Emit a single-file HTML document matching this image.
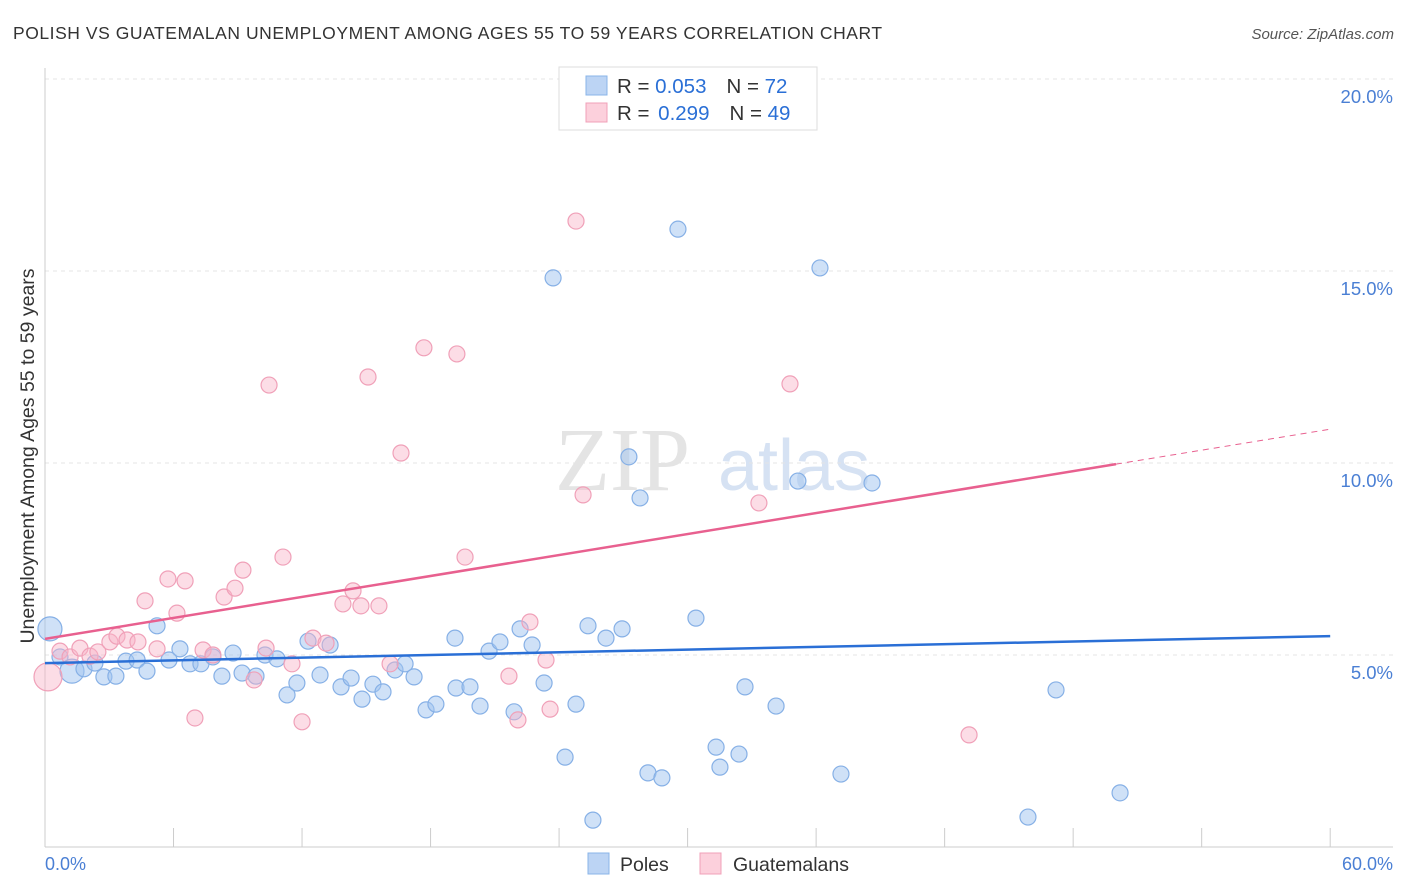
<!DOCTYPE html>
<html><head><meta charset="utf-8">
<style>
body{margin:0;background:#fff;width:1406px;height:892px;overflow:hidden;font-family:"Liberation Sans",sans-serif;}
svg{position:absolute;left:0;top:0}
</style></head>
<body>
<svg id="chart" width="1406" height="892">
<text x="13" y="39" font-size="17.5" fill="#333" letter-spacing="0.55">POLISH VS GUATEMALAN UNEMPLOYMENT AMONG AGES 55 TO 59 YEARS CORRELATION CHART</text>
<text x="1394" y="39" font-size="15" fill="#555" font-style="italic" text-anchor="end">Source: ZipAtlas.com</text>
<g>
<text x="555" y="490" font-size="90" font-family="Liberation Serif,serif" fill="#e4e4e4">ZIP</text>
<text x="718" y="490" font-size="72" fill="#d6e2f3">atlas</text>
</g>
<g id="grid"></g>
<line x1="45" y1="68" x2="45" y2="847" stroke="#ccc"/>
<line x1="45" y1="847" x2="1393" y2="847" stroke="#ccc"/>
<text transform="translate(34,456) rotate(-90)" font-size="19.5" fill="#333" text-anchor="middle">Unemployment Among Ages 55 to 59 years</text>
<text x="45" y="870" font-size="18" fill="#4a7fd4">0.0%</text>
<text x="1393" y="870" font-size="18" fill="#4a7fd4" text-anchor="end">60.0%</text>
<g id="points"></g>
<g id="lines"></g>
<g>
<rect x="559" y="67" width="258" height="63" fill="#fff" stroke="#ddd"/>
<rect x="586" y="76" width="21" height="19" fill="#bcd4f4" stroke="#8ab4e8"/>
<rect x="586" y="103" width="21" height="19" fill="#fcd0dc" stroke="#f0a0b8"/>
<text x="617" y="93" font-size="20.5" fill="#333">R = <tspan fill="#2a6fd6">0.053</tspan><tspan dx="20">N = </tspan><tspan fill="#2a6fd6">72</tspan></text>
<text x="617" y="120" font-size="20.5" fill="#333">R = <tspan fill="#2a6fd6" dx="3">0.299</tspan><tspan dx="20">N = </tspan><tspan fill="#2a6fd6">49</tspan></text>
</g>
<g>
<rect x="588" y="853" width="21" height="21" fill="#bcd4f4" stroke="#8ab4e8"/>
<text x="620" y="871" font-size="19.5" fill="#333">Poles</text>
<rect x="700" y="853" width="21" height="21" fill="#fcd0dc" stroke="#f0a0b8"/>
<text x="733" y="871" font-size="19.5" fill="#333">Guatemalans</text>
</g>
</svg>
<script>
const yTicks=[5,10,15,20];
const yTickLabels=["5.0%","10.0%","15.0%","20.0%"];
const xTicks=[0,6,12,18,24,30,36,42,48,54,60];
const polesX=[0.23,0.70,1.26,1.82,2.33,2.75,3.31,3.78,4.30,4.76,5.23,5.79,6.30,6.77,7.28,7.84,8.26,8.78,9.20,9.85,10.27,10.83,11.30,11.76,12.28,12.84,13.31,13.82,14.29,14.80,15.31,15.78,16.34,16.81,17.23,17.79,18.25,19.14,19.19,19.84,20.31,20.73,21.24,21.90,22.18,22.74,23.30,23.72,24.28,24.79,25.35,25.58,26.19,26.94,27.26,27.78,28.15,28.80,29.55,30.39,31.33,31.51,32.40,32.68,34.13,35.15,36.18,37.16,38.61,45.89,47.20,50.19];
const polesY=[5.68,4.95,4.58,4.64,4.79,4.43,4.45,4.84,4.87,4.58,5.76,4.87,5.16,4.77,4.77,4.95,4.45,5.05,4.53,4.45,5.00,4.90,3.96,4.27,5.36,4.48,5.26,4.17,4.40,3.85,4.24,4.04,4.61,4.77,4.43,3.57,3.72,5.44,4.14,4.17,3.67,5.10,5.34,3.52,5.68,5.26,4.27,14.82,2.34,3.72,5.76,0.70,5.44,5.68,10.16,9.09,1.93,1.80,16.09,5.96,2.60,2.08,2.42,4.17,3.67,9.53,15.08,1.90,9.48,0.78,4.09,1.41];
const guatX=[0.14,0.70,1.17,1.63,2.10,2.47,3.03,3.36,3.83,4.34,4.67,5.23,5.74,6.16,6.54,7.00,7.38,7.84,8.36,8.87,9.24,9.76,10.32,10.46,11.11,11.53,12.00,12.51,13.12,13.91,14.38,14.75,15.08,15.59,16.11,16.62,17.69,19.23,19.61,21.66,22.08,22.64,23.39,23.58,24.79,25.12,33.33,34.78,43.14];
const guatY=[4.43,5.10,4.95,5.18,4.97,5.08,5.34,5.49,5.39,5.34,6.41,5.16,6.98,6.09,6.93,3.36,5.13,5.00,6.51,6.74,7.21,4.35,5.18,12.03,7.55,4.77,3.26,5.44,5.31,6.33,6.67,6.28,12.24,6.28,4.77,10.26,13.00,12.84,7.55,4.45,3.31,5.86,4.87,3.59,16.30,9.17,8.96,12.06,2.92];
const polesBig=[0,2];
const guatBig=[0];
const polesFit=[4.79,0.0117];
const guatFit=[5.42,0.091];
const guatSolidEnd=[50];
const X=v=>45+v*21.42, Y=v=>847-v*38.4;
const NS="http://www.w3.org/2000/svg";
function mk(t,a,p){const e=document.createElementNS(NS,t);for(const k in a)e.setAttribute(k,a[k]);p.appendChild(e);return e;}
const grid=document.getElementById('grid');
yTicks.forEach((t,i)=>{
 const l=mk('line',{x1:45,x2:1393,y1:Y(t),y2:Y(t),stroke:'#e4e4e4','stroke-dasharray':'4,4'},grid);
 
 
 const tx=mk('text',{x:1393,y:Y(t)+24,'font-size':18.5,fill:'#4a7fd4','text-anchor':'end'},grid);
 tx.textContent=yTickLabels[i];
 
 
});
mk('line',{x1:45,x2:1393,y1:79,y2:79,stroke:'#e4e4e4','stroke-dasharray':'4,4'},grid);
xTicks.forEach(t=>{
 const l=mk('line',{x1:X(t),x2:X(t),y1:828,y2:847,stroke:'#ccc'},grid);
 
 
});
const pts=document.getElementById('points');
polesX.forEach((x,i)=>{
 const c=mk('circle',{cx:X(x),cy:Y(polesY[i]),r:polesBig.includes(i)?12:8,fill:'rgba(160,196,240,0.5)',stroke:'#86b0e6','stroke-width':1.2},pts);
 
 
});
guatX.forEach((x,i)=>{
 const c=mk('circle',{cx:X(x),cy:Y(guatY[i]),r:guatBig.includes(i)?14:8,fill:'rgba(248,180,200,0.45)',stroke:'#f0a0b8','stroke-width':1.2},pts);
 
 
});
const ln=document.getElementById('lines');
const bl=mk('line',{x1:X(0),y1:Y(polesFit[0]),x2:X(60),y2:Y(polesFit[0]+polesFit[1]*60),stroke:'#2a6fd6','stroke-width':2.5},ln);


const e=guatSolidEnd[0];
const pl=mk('line',{x1:X(0),y1:Y(guatFit[0]),x2:X(e),y2:Y(guatFit[0]+guatFit[1]*e),stroke:'#e8608f','stroke-width':2.5},ln);


const pd=mk('line',{x1:X(e),y1:Y(guatFit[0]+guatFit[1]*e),x2:X(60),y2:Y(guatFit[0]+guatFit[1]*60),stroke:'#e8608f','stroke-width':1,'stroke-dasharray':'6,5'},ln);


</script>
</body></html>
